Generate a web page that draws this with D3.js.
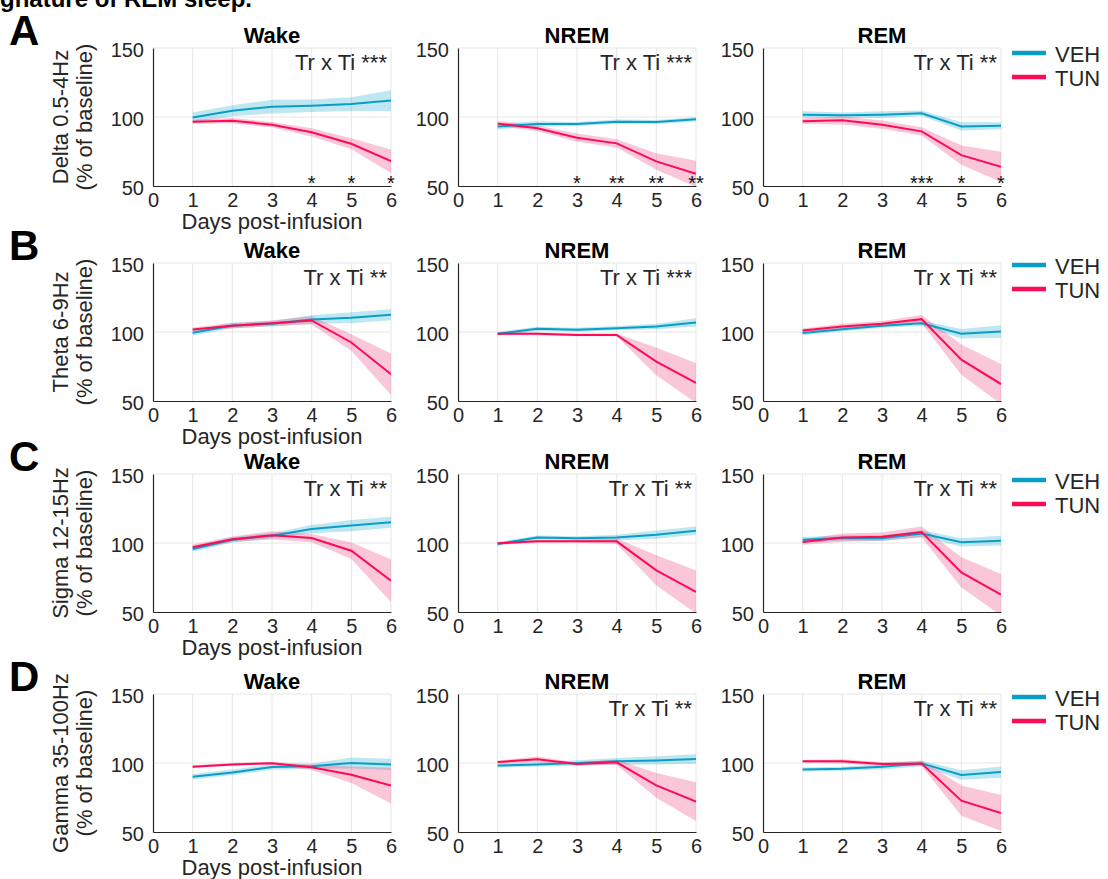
<!DOCTYPE html>
<html>
<script src='https://d3js.org/d3.v7.min.js'></script>
<style>
body { margin: 0; background: #fff; }
text { font-family: 'Liberation Sans', Arial, Helvetica, sans-serif; }
</style>
<body>
<svg width="1108" height="879"></svg>
<script>

// categories
var days = [1, 2, 3, 4, 5, 6];
var xTicks = [0, 1, 2, 3, 4, 5, 6];
var yTicks = [50, 100, 150];
var states = ["Wake", "NREM", "REM"];
var bands = ["Delta 0.5-4Hz", "Theta 6-9Hz", "Sigma 12-15Hz", "Gamma 35-100Hz"];
var letters = ["A", "B", "C", "D"];
var groups = ["VEH", "TUN"];

// means (% of baseline), one row per state: Wake, NREM, REM
var deltaVeh = [[99.7, 104.6, 107.5, 108.2, 109.4, 111.9], [93.2, 94.9, 94.9, 96.6, 96.4, 98.3], [101.7, 101.2, 101.7, 102.7, 93.2, 93.7]];
var deltaVehSem = [[3.5, 4, 5, 4.5, 5, 7.5], [2, 2, 1.5, 1.5, 1.5, 1.5], [2.5, 2, 2.5, 2, 3, 2.5]];
var deltaTun = [[96.6, 97.3, 94.4, 88.9, 80.6, 68], [95.2, 91.8, 85, 80.9, 67.8, 58.8], [96.9, 97.6, 94.4, 89.6, 72.4, 63.9]];
var deltaTunSem = [[1.5, 2, 2, 3, 4, 8.5], [2, 2, 3, 3, 6, 9.5], [2, 3, 3, 3, 7, 11]];

var thetaVeh = [[99.4, 104.7, 105.9, 109.1, 110.3, 112.5], [98.7, 102.3, 101.6, 102.8, 104, 106.9], [99.2, 102, 104.5, 106.4, 98.7, 100.4]];
var thetaVehSem = [[2, 2, 2, 3, 4, 4], [1.5, 1.5, 1.5, 1.5, 2, 3], [1.5, 1.5, 1.5, 2, 3.5, 4.5]];
var thetaTun = [[101.8, 104.5, 106.4, 108.4, 92.4, 69.4], [98.7, 98.7, 97.9, 97.9, 78.6, 63.1], [101.1, 104, 105.9, 109.3, 80, 62.3]];
var thetaTunSem = [[1.5, 2, 2, 3, 6, 15], [1, 1, 1, 1, 10, 14.5], [1.5, 2, 2, 3, 11, 14.5]];

var sigmaVeh = [[95.7, 102.4, 105.3, 110.1, 112.6, 115], [99.3, 103.9, 103.4, 103.9, 106, 108.9], [102.4, 103.6, 103.4, 106.8, 100.5, 101.7]];
var sigmaVehSem = [[2, 2, 2, 3, 4, 4], [1.5, 1.5, 1.5, 2, 3, 3], [2, 2, 2, 2.5, 3, 3.5]];
var sigmaTun = [[96.9, 102.7, 105.6, 103.6, 94.4, 72.7], [99.8, 101.2, 101.2, 101.2, 80.2, 64.5], [100.7, 103.9, 104.6, 108, 78.7, 62.6]];
var sigmaTunSem = [[2, 2, 3, 3, 6, 15.5], [1, 1, 1, 2, 11, 15.5], [2, 3, 3, 4, 11, 15]];

var gammaVeh = [[90.1, 93.2, 97.1, 97.6, 100, 99], [98.1, 99, 100, 101.2, 101.9, 102.9], [95.3, 95.8, 97.3, 99.7, 91.3, 93.4]];
var gammaVehSem = [[2, 2, 2, 2, 4, 4], [1.5, 1.5, 2, 2.5, 3, 3.5], [1.5, 1.5, 2, 2, 3.5, 4]];
var gammaTun = [[97.3, 99, 99.8, 96.9, 91.5, 83.6], [100.7, 102.7, 99.3, 100.5, 83.8, 72], [101.2, 101.2, 99.3, 99.7, 72.7, 63.8]];
var gammaTunSem = [[1, 1, 1, 2, 6, 13], [1, 2, 1, 2, 9, 14], [1, 1.5, 1.5, 2, 11, 13]];

// stats labels
var interaction = [["***", "***", "**"], ["**", "***", "**"], ["**", "**", "**"], ["", "**", "**"]];
var deltaStars = [["", "", "", "*", "*", "*"], ["", "", "*", "**", "**", "**"], ["", "", "", "***", "*", "*"]];

var vehMeans = [deltaVeh, thetaVeh, sigmaVeh, gammaVeh];
var vehSems = [deltaVehSem, thetaVehSem, sigmaVehSem, gammaVehSem];
var tunMeans = [deltaTun, thetaTun, sigmaTun, gammaTun];
var tunSems = [deltaTunSem, thetaTunSem, sigmaTunSem, gammaTunSem];

// layout
var colLeft = [153, 458, 763];
var rowTop = [48, 263, 474, 694];
var legendTop = [53, 265, 480, 697];
var plotW = 238, plotH = 138;
var colors = ["#0a9ec6", "#ff0a55"];
var shades = ["rgba(40,175,210,0.3)", "rgba(240,70,125,0.3)"];
var axisColor = "#262626";

var svg = d3.select("svg");

var xScale = d3.scaleLinear().domain([0, 6]).range([0, plotW]);
var yScale = d3.scaleLinear().domain([50, 150]).range([plotH, 0]);

var line = d3.line()
    .x(function (d) { return xScale(d[0]); })
    .y(function (d) { return yScale(d[1]); });

var area = d3.area()
    .x(function (d) { return xScale(d[0]); })
    .y0(function (d) { return yScale(d[1] - d[2]); })
    .y1(function (d) { return yScale(d[1] + d[2]); });

// clip for shaded sem
svg.append("defs").append("clipPath").attr("id", "plotclip")
    .append("rect").attr("width", plotW).attr("height", plotH);

// cropped caption at the very top
svg.append("text")
    .attr("x", 0).attr("y", 7)
    .style("font-size", "24px").style("font-weight", "bold")
    .text("gnature of REM sleep.");

bands.forEach(function (band, r) {

    // panel letter
    svg.append("text")
        .attr("x", 9).attr("y", rowTop[r] - 3)
        .style("font-size", "42px").style("font-weight", "bold")
        .text(letters[r]);

    states.forEach(function (state, c) {
        var g = svg.append("g")
            .attr("transform", "translate(" + colLeft[c] + "," + rowTop[r] + ")");

        // grid
        g.selectAll(".vgrid").data(xTicks.slice(1)).enter().append("line")
            .attr("x1", function (d) { return xScale(d); })
            .attr("x2", function (d) { return xScale(d); })
            .attr("y1", 0).attr("y2", plotH)
            .style("stroke", "#e6e6e6").style("stroke-width", 1);
        g.selectAll(".hgrid").data(yTicks.slice(1)).enter().append("line")
            .attr("x1", 0).attr("x2", plotW)
            .attr("y1", function (d) { return yScale(d); })
            .attr("y2", function (d) { return yScale(d); })
            .style("stroke", "#e6e6e6").style("stroke-width", 1);

        // sem bands then mean lines
        var series = [vehMeans[r][c], tunMeans[r][c]];
        var sems = [vehSems[r][c], tunSems[r][c]];
        var plot = g.append("g").attr("clip-path", "url(#plotclip)");
        [0, 1].forEach(function (k) {
            var pts = days.map(function (d, i) { return [d, series[k][i], sems[k][i]]; });
            plot.append("path").datum(pts)
                .attr("d", area)
                .style("fill", shades[k]).style("stroke", "none");
        });
        [0, 1].forEach(function (k) {
            var pts = days.map(function (d, i) { return [d, series[k][i]]; });
            plot.append("path").datum(pts)
                .attr("d", line)
                .style("fill", "none")
                .style("stroke", colors[k])
                .style("stroke-width", 2);
        });

        // axes
        var ya = g.append("g")
            .call(d3.axisLeft(yScale).tickValues(yTicks).tickFormat(d3.format("d")).tickSize(0).tickPadding(9));
        var xa = g.append("g")
            .attr("transform", "translate(0," + plotH + ")")
            .call(d3.axisBottom(xScale).tickValues(xTicks).tickFormat(d3.format("d")).tickSize(0).tickPadding(7));
        [ya, xa].forEach(function (a) {
            a.select(".domain").style("stroke", axisColor).style("stroke-width", 1.2);
            a.selectAll("text").style("font-size", "20px").style("fill", axisColor)
                .style("font-family", "'Liberation Sans', Arial, sans-serif");
        });
        ya.selectAll("text").attr("dy", "0.42em");

        // title
        g.append("text")
            .attr("x", plotW / 2).attr("y", -5)
            .attr("text-anchor", "middle")
            .style("font-size", "22px").style("font-weight", "bold")
            .text(state);

        // interaction label
        if (interaction[r][c] != "") {
            g.append("text")
                .attr("x", plotW - 4).attr("y", 22)
                .attr("text-anchor", "end")
                .style("font-size", "22px").style("fill", axisColor)
                .text("Tr x Ti " + interaction[r][c]);
        }

        // post hoc stars (delta only)
        if (r == 0) {
            g.selectAll(".star").data(deltaStars[c]).enter().append("text")
                .attr("x", function (d, i) { return xScale(days[i]); })
                .attr("y", plotH + 4)
                .attr("text-anchor", "middle")
                .style("font-size", "20px").style("fill", "#111")
                .text(function (d) { return d; });
        }

        // y label and x label on the wake column
        if (c == 0) {
            g.append("text")
                .attr("transform", "translate(-85," + plotH / 2 + ")rotate(-90)")
                .attr("text-anchor", "middle")
                .style("font-size", "22px").style("fill", axisColor)
                .text(band);
            g.append("text")
                .attr("transform", "translate(-61," + plotH / 2 + ")rotate(-90)")
                .attr("text-anchor", "middle")
                .style("font-size", "22px").style("fill", axisColor)
                .text("(% of baseline)");
            g.append("text")
                .attr("x", plotW / 2).attr("y", plotH + 43)
                .attr("text-anchor", "middle")
                .style("font-size", "22px").style("fill", axisColor)
                .text("Days post-infusion");
        }
    });

    // legend
    var lineLegend = svg.selectAll(".legend" + r).data(groups)
        .enter().append("g")
        .attr("transform", function (d, i) {
            return "translate(1012," + (legendTop[r] + i * 24) + ")";
        });
    lineLegend.append("line")
        .attr("x1", 0).attr("x2", 34).attr("y1", 0).attr("y2", 0)
        .style("stroke", function (d, i) { return colors[i]; })
        .style("stroke-width", 4.5);
    lineLegend.append("text")
        .attr("x", 43).attr("y", 8.5)
        .style("font-size", "22px").style("fill", axisColor)
        .text(function (d) { return d; });
});

</script>
</body>
</html>
